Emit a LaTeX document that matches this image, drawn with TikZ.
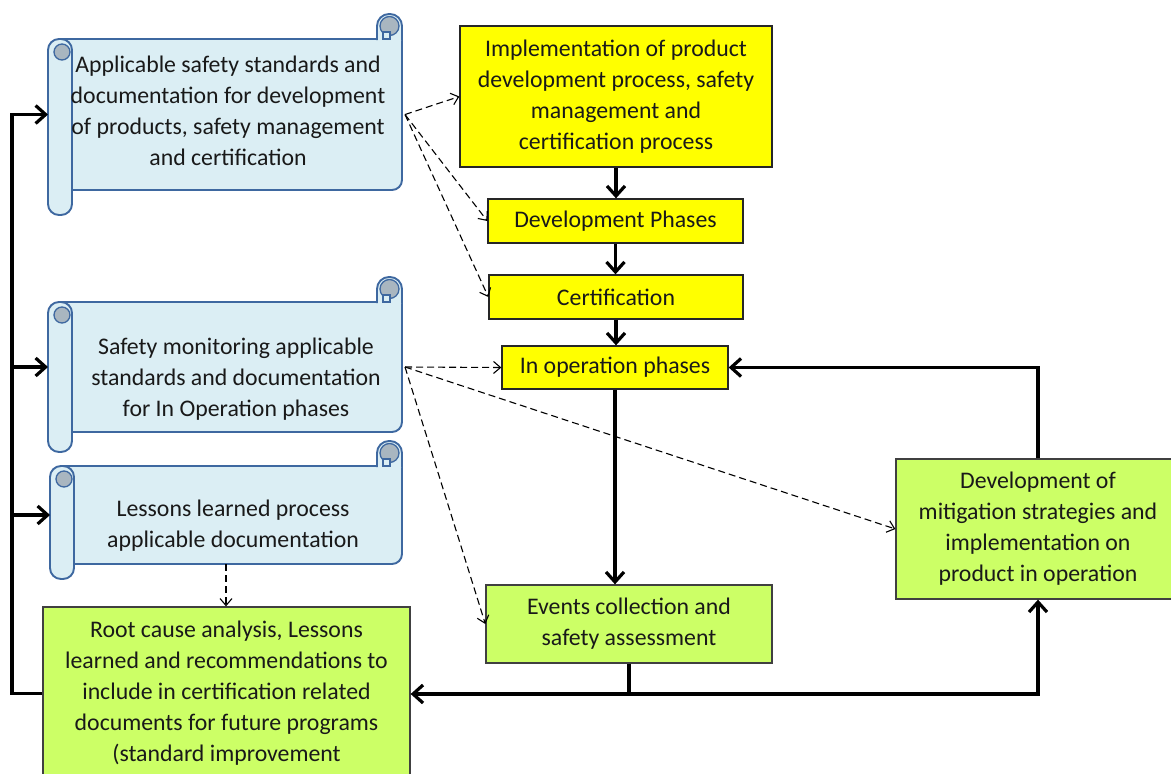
\documentclass[tikz,border=0pt]{standalone}
\usepackage{fontspec}
\setmainfont{Carlito}
\usetikzlibrary{arrows.meta,calc}
\definecolor{scrollfill}{HTML}{DBEEF4}
\definecolor{scrollline}{HTML}{3E68A0}
\definecolor{curlgray}{HTML}{A9B6C0}
\definecolor{boxyellow}{HTML}{FFFF00}
\definecolor{boxgreen}{HTML}{CCFF66}

% scroll outline: left, top, right, bottom of the body, bottom of the rolled tube
\newcommand\scrollshape[5]{%
  \path[scrl] ({#1+12},#2) -- (#3,#2) [rounded corners=10pt] -- (#3,#4) -- ({#1+12},#4) [sharp corners] -- cycle;
  \path[scrl, rounded corners=12pt] ({#3-25},{#2+1}) -- ({#3-25},{#2-25}) -- (#3,{#2-25}) -- (#3,{#2+1});
  \path[curl] ({#3-12.5},{#2-13}) circle[radius=9.5pt];
  \path[scrl, line width=1.3pt] ({#3-19},{#2-7}) rectangle ({#3-12},{#2});
  \path[scrl, rounded corners=11pt] (#1,#2) rectangle ({#1+24},#5);
  \path[curl] ({#1+14},{#2+13}) circle[radius=8pt];
}

\begin{document}
\begin{tikzpicture}[x=1pt,y=-1pt,
  txt/.style={font=\fontsize{23.8}{31}\selectfont, align=center, text=black!90, inner sep=0pt},
  ybox/.style={draw=black!85, fill=boxyellow, line width=1.3pt, inner sep=0pt, txt},
  gbox/.style={draw=black!75, fill=boxgreen, line width=1.3pt, inner sep=0pt, txt},
  scrl/.style={draw=scrollline, fill=scrollfill, line width=1.9pt},
  curl/.style={draw=scrollline, fill=curlgray, line width=1.3pt},
  area/.style={inner sep=0pt, outer sep=0pt},
  flow/.style={line width=3.2pt, -{Straight Barb[length=10pt,width=18pt]}},
  ref/.style={line width=1.1pt, dash pattern=on 7pt off 4pt, -{Straight Barb[length=7pt,width=12pt]}},
]
\useasboundingbox (0,0) rectangle (1171,774);
\clip (0,0) rectangle (1171,774);

% document scrolls
\scrollshape{48}{39}{402}{190}{215}
\scrollshape{48}{302}{402}{432}{452}
\scrollshape{50}{466}{402}{564}{579}
\node[area, minimum width=354pt, minimum height=151pt] (s1) at (225,114.5) {};
\node[area, minimum width=354pt, minimum height=130pt] (s2) at (225,367) {};
\node[area, minimum width=352pt, minimum height=98pt] (s3) at (226,515) {};
\node[txt] (t1) at (228,111) {Applicable safety standards and\\documentation for development\\of products, safety management\\and certification};
\node[txt] (t2) at (236,379) {Safety monitoring applicable\\standards and documentation\\for In Operation phases};
\node[txt] (t3) at (233,526) {Lessons learned process\\applicable documentation};

% process boxes
\node[ybox, minimum width=312pt, minimum height=141pt] (impl) at (616,96.5) {Implementation of product\\development process, safety\\management and\\certification process};
\node[ybox, minimum width=255pt, minimum height=44pt] (dev) at (615.5,221) {Development Phases};
\node[ybox, minimum width=254pt, minimum height=44pt] (cert) at (616,297) {Certification};
\node[ybox, minimum width=226pt, minimum height=43pt] (inop) at (615,367.5) {In operation phases};
\node[gbox, minimum width=286pt, minimum height=78pt] (events) at (629,624) {Events collection and\\safety assessment};
\node[gbox, minimum width=284pt, minimum height=140pt] (mitig) at (1038,529) {Development of\\mitigation strategies and\\implementation on\\product in operation};
\node[gbox, minimum width=367pt, minimum height=173pt] (root) at (226.5,693.5) {Root cause analysis, Lessons\\learned and recommendations to\\include in certification related\\documents for future programs\\(standard improvement};

% main flow
\coordinate (bus) at (12,0);
\coordinate (split) at (629,694);
\draw[flow] (impl.south) -- (impl.south |- dev.north);
\draw[flow] (dev.south) -- (dev.south |- cert.north);
\draw[flow] (cert.south) -- (cert.south |- inop.north);
\draw[flow] (inop.south) -- (inop.south |- events.north);
\draw[line width=3.2pt] (events.south) -- (split);
\draw[flow] (split) -- (split -| root.east);
\draw[flow] (split) -| (mitig.south);
\draw[flow] (mitig.north) |- (inop.east);
\draw[flow] (root.west) -- (root.west -| bus) |- (s1.west);
\draw[flow] (s2.west -| bus) -- (s2.west);
\draw[flow] (s3.west -| bus) -- (s3.west);

% references to the documentation
\draw[ref] ([xshift=3pt]s1.east) -- (impl.west);
\draw[ref] ([xshift=3pt]s1.east) -- (dev.west);
\draw[ref] ([xshift=3pt]s1.east) -- (cert.west);
\draw[ref] ([xshift=3pt]s2.east) -- (inop.west);
\draw[ref] ([xshift=3pt]s2.east) -- (mitig.west);
\draw[ref] ([xshift=3pt]s2.east) -- (events.west);
\draw[ref] (s3.south) -- (s3.south |- root.north);
\end{tikzpicture}
\end{document}
